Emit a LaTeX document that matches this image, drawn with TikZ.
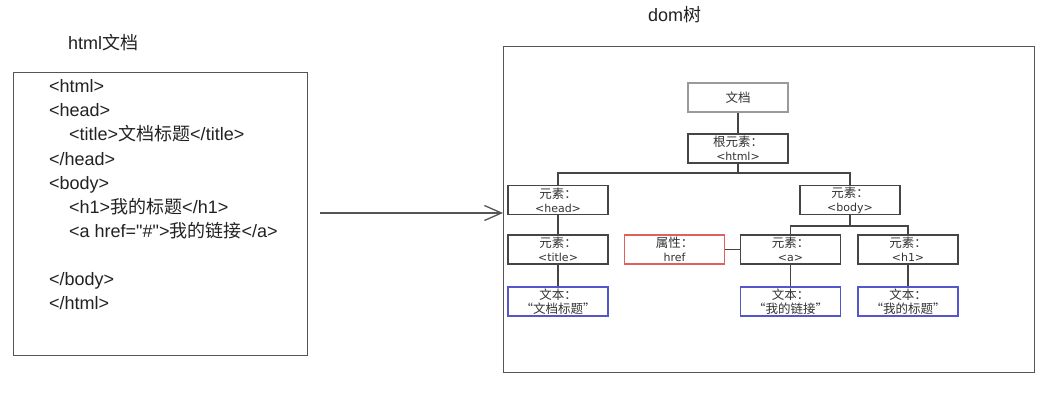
\documentclass[tikz,border=0pt]{standalone}
\usepackage{fontspec}
\setmainfont{Liberation Sans}[Ligatures=TeXOff]
\newfontfamily\cjk{Noto Sans CJK SC}
\newfontfamily\dvs{DejaVu Sans}
\usetikzlibrary{arrows.meta}
\definecolor{framec}{HTML}{555555}
\definecolor{linec}{HTML}{454545}
\definecolor{docc}{HTML}{9A9A9A}
\definecolor{redc}{HTML}{E06060}
\definecolor{bluec}{HTML}{5555CC}
\definecolor{textc}{HTML}{222222}
\definecolor{treetext}{HTML}{333333}
\begin{document}
\begin{tikzpicture}[x=1pt,y=-1pt,
  code/.style={anchor=base west, inner sep=0pt, font=\fontsize{18}{20}\selectfont, text=textc},
  ttl/.style={anchor=base west, inner sep=0pt, font=\fontsize{18}{20}\selectfont, text=textc},
  tbox/.style={draw=linec, line width=1.5pt, minimum width=100pt, minimum height=29pt, inner sep=0pt, align=center, font=\fontsize{11}{14}\selectfont\dvs, text=treetext, fill=white},
  docbox/.style={tbox, draw=docc, line width=2pt},
  redbox/.style={tbox, draw=redc},
  bluebox/.style={tbox, draw=bluec},
  conn/.style={draw=linec, line width=1.5pt},
  frame/.style={draw=framec, line width=1.2pt}
]
\useasboundingbox (0,0) rectangle (1057,409);
\fill[white] (0,0) rectangle (1057,409);

% left: html document
\node[ttl] (t1) at (68,50) {html{\cjk 文档}};
\node[frame, anchor=north west, minimum width=294pt, minimum height=283pt, inner sep=0pt] (lbox) at (13,72) {};
\node[code] (c1) at (49,93) {<html>};
\node[code] (c2) at (49,117) {<head>};
\node[code] (c3) at (69,141) {<title>{\cjk 文档标题}</title>};
\node[code] (c4) at (49,165) {</head>};
\node[code] (c5) at (49,189) {<body>};
\node[code] (c6) at (69,213) {<h1>{\cjk 我的标题}</h1>};
\node[code] (c7) at (69,237) {<a href="\#">{\cjk 我的链接}</a>};
\node[code] (c8) at (49,285) {</body>};
\node[code] (c9) at (49,309) {</html>};

% right: dom tree
\node[ttl] (t2) at (648,22) {dom{\cjk 树}};
\node[frame, anchor=north west, minimum width=531pt, minimum height=326pt, inner sep=0pt] (rbox) at (503,46) {};

% arrow
\coordinate (as) at (320,213);
\draw[draw=framec, line width=1.3pt, -{Straight Barb[length=17pt,width=15pt,line width=1.3pt]}] (as) -- (rbox.west |- as);

\node[docbox] (doc) at (738,97.5) {\fontsize{12.5}{14}\selectfont\cjk 文档};
\node[tbox] (root) at (738,148.5) {{\fontsize{12.5}{14}\selectfont\cjk 根元素：}\\<html>};
\node[tbox] (head) at (558,200) {{\fontsize{12.5}{14}\selectfont\cjk 元素：}\\<head>};
\node[tbox] (body) at (850,200) {{\fontsize{12.5}{14}\selectfont\cjk 元素：}\\<body>};
\node[tbox] (title) at (558,249.5) {{\fontsize{12.5}{14}\selectfont\cjk 元素：}\\<title>};
\node[redbox] (href) at (674.5,249.5) {{\fontsize{12.5}{14}\selectfont\cjk 属性：}\\href};
\node[tbox] (a) at (790.5,249.5) {{\fontsize{12.5}{14}\selectfont\cjk 元素：}\\<a>};
\node[tbox] (h1) at (908,249.5) {{\fontsize{12.5}{14}\selectfont\cjk 元素：}\\<h1>};
\node[bluebox] (x1) at (558,301.5) {{\fontsize{12.5}{14}\selectfont\cjk 文本：}\\{\fontsize{12.5}{14}\selectfont\cjk “文档标题”}};
\node[bluebox] (x2) at (790.5,301.5) {{\fontsize{12.5}{14}\selectfont\cjk 文本：}\\{\fontsize{12.5}{14}\selectfont\cjk “我的链接”}};
\node[bluebox] (x3) at (908,301.5) {{\fontsize{12.5}{14}\selectfont\cjk 文本：}\\{\fontsize{12.5}{14}\selectfont\cjk “我的标题”}};

\coordinate (j1) at (738,173);
\coordinate (j2) at (850,226);
\draw[conn] (doc.south) -- (root.north);
\draw[conn] (root.south) -- (j1);
\draw[conn] (head.north) |- (j1) -| (body.north);
\draw[conn] (body.south) -- (j2);
\draw[conn] (a.north) |- (j2) -| (h1.north);
\draw[conn] (head.south) -- (title.north);
\draw[conn] (title.south) -- (x1.north);
\draw[conn] (a.south) -- (x2.north);
\draw[conn] (h1.south) -- (x3.north);
\draw[conn] (href.east) -- (a.west);
\end{tikzpicture}
\end{document}
